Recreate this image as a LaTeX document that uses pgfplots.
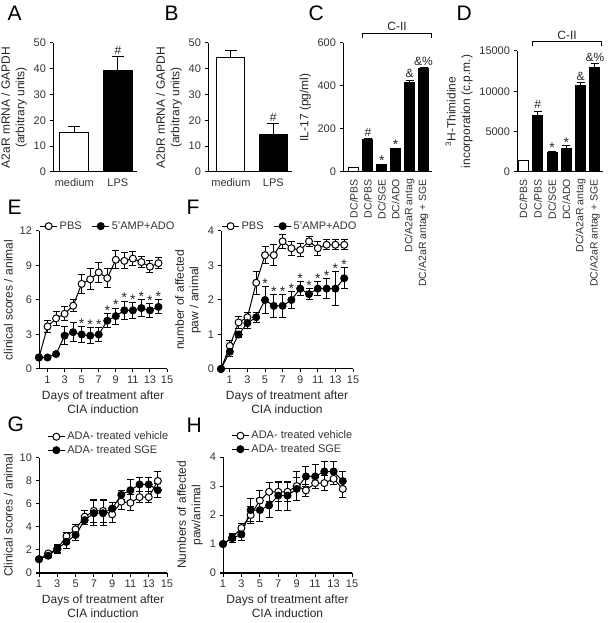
\documentclass[border=0pt]{standalone}
\usepackage{fontspec}
\setmainfont{Liberation Sans}
\usepackage{pgfplots}
\pgfplotsset{compat=1.18}

\pgfplotsset{
  panel/.style={
    scale only axis, clip=false,
    axis lines=left,
    axis line style={-, line width=1pt, black},
    tick align=outside, tick pos=left,
    major tick length=3.5pt,
    tick style={line width=1pt, black},
    tick label style={font=\fontsize{11}{12}\selectfont, text=black!80},
    label style={font=\fontsize{12}{14.5}\selectfont, text=black!85, align=center},
    /pgf/number format/assume math mode=true,
    /pgf/number format/set thousands separator={},
    scaled y ticks=false,
    ymin=0,
  },
  barpanel/.style={panel, xtick style={draw=none}},
  rotlabels/.style={xticklabel style={rotate=90, anchor=east, font=\fontsize{10.5}{12}\selectfont}},
  linepanel/.style={panel,
    legend style={draw=none, fill=none, font=\fontsize{11}{12.5}\selectfont, text=black!80},
    legend cell align=left},
  errb/.style={error bars/.cd, y dir=both, y explicit,
    error bar style={line width=1pt},
    error mark options={rotate=90, mark size=3.5pt, line width=1pt}},
  berr/.style={error bars/.cd, y dir=plus, y explicit,
    error bar style={line width=1pt},
    error mark options={rotate=90, mark size=#1, line width=1pt}},
  openc/.style={black, line width=1pt, mark=*, mark size=3.5pt,
    mark options={fill=white, line width=1pt, solid}},
  fullc/.style={black, line width=1pt, mark=*, mark size=3.5pt,
    mark options={fill=black, solid}},
  note/.style={draw=none, mark=none, nodes near coords, point meta=explicit symbolic,
    every node near coord/.append style={font=\fontsize{12}{13}\selectfont,
      text=black!85, anchor=south, inner sep=1.5pt}},
  starnote/.style={draw=none, mark=none, nodes near coords={*},
    every node near coord/.append style={font=\fontsize{14}{14}\selectfont,
      text=black!85, anchor=base, inner sep=0pt, yshift=-1.8pt}},
}

\newcommand{\panel}[1]{\fontsize{21}{21}\selectfont #1}

\begin{document}
\begin{tikzpicture}
\path[use as bounding box] (0pt,0pt) rectangle (611pt,623pt);

% panel letters
\node[anchor=base west] at (4pt,602pt) {\panel{A}};
\node[anchor=base west] at (161pt,602pt) {\panel{B}};
\node[anchor=base west] at (305pt,602pt) {\panel{C}};
\node[anchor=base west] at (453pt,602pt) {\panel{D}};
\node[anchor=base west] at (4pt,408pt) {\panel{E}};
\node[anchor=base west] at (183pt,408pt) {\panel{F}};
\node[anchor=base west] at (4pt,191pt) {\panel{G}};
\node[anchor=base west] at (183pt,190pt) {\panel{H}};

% ---------- A
\begin{axis}[barpanel, at={(53pt,451pt)}, anchor=south west,
  width=84pt, height=129pt, xmin=-0.49, xmax=1.44, ymax=50,
  ytick={0,10,...,50}, xtick={0,1}, xticklabels={medium,LPS},
  ylabel={A2aR mRNA / GAPDH\\(arbitrary units)}]
\addplot[ybar, bar width=29pt, bar shift=0pt, fill=white, draw=black, line width=1pt, berr=6pt]
  coordinates {(0,15.5) +- (0,2.0)};
\addplot[ybar, bar width=29pt, bar shift=0pt, fill=black, draw=black, line width=1pt, berr=6pt]
  coordinates {(1,39.3) +- (0,5.3)};
\addplot[note] coordinates {(1,44.8)[\#]};
\end{axis}

% ---------- B
\begin{axis}[barpanel, at={(208pt,451pt)}, anchor=south west,
  width=84pt, height=129pt, xmin=-0.54, xmax=1.44, ymax=50,
  ytick={0,10,...,50}, xtick={0,1}, xticklabels={medium,LPS},
  ylabel={A2bR mRNA / GAPDH\\(arbitrary units)}]
\addplot[ybar, bar width=28pt, bar shift=0pt, fill=white, draw=black, line width=1pt, berr=6pt]
  coordinates {(0,44.2) +- (0,2.8)};
\addplot[ybar, bar width=28pt, bar shift=0pt, fill=black, draw=black, line width=1pt, berr=6pt]
  coordinates {(1,14.6) +- (0,4.2)};
\addplot[note] coordinates {(1,19.0)[\#]};
\end{axis}

% ---------- C
\begin{axis}[barpanel, rotlabels, at={(343pt,451pt)}, anchor=south west,
  width=89pt, height=129pt, xmin=-0.79, xmax=5.61, ymax=600,
  ytick={0,200,400,600}, xtick={0,...,5},
  xticklabels={DC/PBS,DC/PBS,DC/SGE,DC/ADO,DC/A2aR antag,DC/A2aR antag + SGE},
  ylabel={IL-17 (pg/ml)}]
\addplot[ybar, bar width=10pt, bar shift=0pt, fill=white, draw=black, line width=1pt, berr=4pt]
  coordinates {(0,20) +- (0,2)};
\addplot[ybar, bar width=10pt, bar shift=0pt, fill=black, draw=black, line width=1pt, berr=4pt]
  coordinates {(1,150) +- (0,6) (2,35) +- (0,2) (3,108) +- (0,3) (4,415) +- (0,12) (5,480) +- (0,5)};
\addplot[note] coordinates {(1,158)[\#] (4,429)[\&] (5,487)[\&\%]};
\addplot[starnote] coordinates {(2,39) (3,113)};
\draw[line width=0.9pt] (axis cs:0.64,623) |- (axis cs:5.54,646) -- (axis cs:5.54,623);
\node[anchor=south, font=\fontsize{12}{13}\selectfont, text=black!85, inner sep=2pt] at (axis cs:3.1,646) {C-II};
\end{axis}

% ---------- D
\begin{axis}[barpanel, rotlabels, at={(517pt,451pt)}, anchor=south west,
  width=86pt, height=121pt, xmin=-0.45, xmax=5.56, ymax=15000,
  ytick={0,5000,10000,15000}, xtick={0,...,5},
  xticklabels={DC/PBS,DC/PBS,DC/SGE,DC/ADO,DC/A2aR antag,DC/A2aR antag + SGE},
  ylabel={\textsuperscript{3}H-Thimidine\\incorporation (c.p.m.)}]
\addplot[ybar, bar width=10pt, bar shift=0pt, fill=white, draw=black, line width=1pt, berr=4pt]
  coordinates {(0,1400) +- (0,80)};
\addplot[ybar, bar width=10pt, bar shift=0pt, fill=black, draw=black, line width=1pt, berr=4pt]
  coordinates {(1,7000) +- (0,550) (2,2400) +- (0,200) (3,2950) +- (0,280) (4,10700) +- (0,350) (5,13000) +- (0,400)};
\addplot[note] coordinates {(1,7600)[\#] (4,11100)[\&] (5,13450)[\&\%]};
\addplot[starnote] coordinates {(2,2650) (3,3280)};
\draw[line width=0.9pt] (axis cs:0.66,15600) |- (axis cs:5.42,16150) -- (axis cs:5.42,15600);
\node[anchor=south, font=\fontsize{12}{13}\selectfont, text=black!85, inner sep=2pt] at (axis cs:3.05,16150) {C-II};
\end{axis}

% ---------- E
\begin{axis}[linepanel, at={(39pt,254pt)}, anchor=south west,
  width=128pt, height=138pt, xmin=0, xmax=15, ymax=12,
  xtick={1,3,...,15}, ytick={0,3,...,12},
  xlabel={Days of treatment after\\CIA induction},
  ylabel={clinical scores / animal},
  legend columns=2,
  legend style={at={(-0.02,1.035)}, anchor=west,
    /tikz/every even column/.append style={column sep=8pt}}]
\addplot[openc, errb] coordinates {
  (0,1.0) (1,3.7) +- (0,0.5) (2,4.4) +- (0,0.6) (3,4.8) +- (0,0.6) (4,5.5) +- (0,0.5)
  (5,7.4) +- (0,0.8) (6,7.8) +- (0,0.9) (7,8.4) +- (0,0.9) (8,7.9) +- (0,0.8)
  (9,9.5) +- (0,0.8) (10,9.4) +- (0,0.7) (11,9.6) +- (0,0.6) (12,9.3) +- (0,0.5)
  (13,8.9) +- (0,0.5) (14,9.2) +- (0,0.5)};
\addlegendentry{PBS}
\addplot[fullc, errb] coordinates {
  (0,1.0) (1,1.0) (2,1.3) (3,2.9) +- (0,0.8) (4,3.2) +- (0,0.8) (5,3.0) +- (0,0.7)
  (6,2.9) +- (0,0.7) (7,3.0) +- (0,0.6) (8,4.2) +- (0,0.6) (9,4.6) +- (0,0.7)
  (10,5.1) +- (0,0.8) (11,5.1) +- (0,0.7) (12,5.3) +- (0,0.7) (13,5.1) +- (0,0.6)
  (14,5.4) +- (0,0.6)};
\addlegendentry{5'AMP+ADO}
\addplot[starnote] coordinates {(5,3.7) (6,3.6) (7,3.6) (8,4.8) (9,5.3)
  (10,5.9) (11,5.8) (12,6.0) (13,5.7) (14,6.0)};
\end{axis}

% ---------- F
\begin{axis}[linepanel, at={(221pt,254pt)}, anchor=south west,
  width=132pt, height=138pt, xmin=0, xmax=15, ymax=4,
  xtick={1,3,...,15}, ytick={0,1,...,4},
  xlabel={Days of treatment after\\CIA induction},
  ylabel={number of affected\\paw / animal},
  legend columns=2,
  legend style={at={(-0.02,1.035)}, anchor=west,
    /tikz/every even column/.append style={column sep=8pt}}]
\addplot[openc, errb] coordinates {
  (0,0) (1,0.67) +- (0,0.15) (2,1.35) +- (0,0.18) (3,1.5) +- (0,0.15) (4,2.5) +- (0,0.33)
  (5,3.3) +- (0,0.25) (6,3.3) +- (0,0.3) (7,3.7) +- (0,0.2) (8,3.5) +- (0,0.2)
  (9,3.45) +- (0,0.2) (10,3.7) +- (0,0.15) (11,3.5) +- (0,0.2) (12,3.6) +- (0,0.15)
  (13,3.6) +- (0,0.15) (14,3.6) +- (0,0.15)};
\addlegendentry{PBS}
\addplot[fullc, errb] coordinates {
  (0,0) (1,0.5) +- (0,0.15) (2,1.0) +- (0,0.1) (3,1.33) +- (0,0.15) (4,1.5) +- (0,0.15)
  (5,2.0) +- (0,0.38) (6,1.83) +- (0,0.33) (7,1.83) +- (0,0.33) (8,2.0) +- (0,0.25)
  (9,2.33) +- (0,0.2) (10,2.17) +- (0,0.15) (11,2.33) +- (0,0.2) (12,2.33) +- (0,0.3)
  (13,2.33) +- (0,0.5) (14,2.63) +- (0,0.3)};
\addlegendentry{5'AMP+ADO}
\addplot[starnote] coordinates {(5,2.38) (6,2.16) (7,2.16) (8,2.25) (9,2.53)
  (10,2.32) (11,2.53) (12,2.63) (13,2.83) (14,2.93)};
\end{axis}

% ---------- G
\begin{axis}[linepanel, at={(39pt,50pt)}, anchor=south west,
  width=128pt, height=115pt, xmin=1, xmax=15, ymax=10,
  xtick={1,3,...,15}, ytick={0,2,...,10},
  xlabel={Days of treatment after\\CIA induction},
  ylabel={Clinical scores / animal},
  legend style={at={(0.04,0.99)}, anchor=south west}]
\addplot[openc, errb] coordinates {
  (1,1.2) (2,1.7) +- (0,0.15) (3,2.1) +- (0,0.3) (4,3.2) +- (0,0.3) (5,3.8) +- (0,0.4)
  (6,4.9) +- (0,0.5) (7,5.4) +- (0,1.0) (8,5.4) +- (0,1.0) (9,5.1) +- (0,0.7)
  (10,6.2) +- (0,0.7) (11,6.1) +- (0,0.7) (12,6.6) +- (0,0.5) (13,6.6) +- (0,0.5)
  (14,8.0) +- (0,0.8)};
\addlegendentry{ADA- treated vehicle}
\addplot[fullc, errb] coordinates {
  (1,1.2) (2,1.5) +- (0,0.15) (3,2.1) +- (0,0.4) (4,2.7) +- (0,0.6) (5,3.3) +- (0,0.5)
  (6,4.6) +- (0,0.4) (7,5.2) +- (0,1.1) (8,5.2) +- (0,1.1) (9,5.6) +- (0,0.5)
  (10,6.8) +- (0,0.4) (11,7.2) +- (0,0.9) (12,7.7) +- (0,0.6) (13,7.7) +- (0,0.6)
  (14,7.2) +- (0,0.6)};
\addlegendentry{ADA- treated SGE}
\end{axis}

% ---------- H
\begin{axis}[linepanel, at={(223pt,50pt)}, anchor=south west,
  width=129pt, height=116pt, xmin=1, xmax=15, ymax=4,
  xtick={1,3,...,15}, ytick={0,1,...,4},
  xlabel={Days of treatment after\\CIA induction},
  ylabel={Numbers of affected\\paw/animal},
  legend style={at={(0.04,0.99)}, anchor=south west}]
\addplot[openc, errb] coordinates {
  (1,1.0) (2,1.22) +- (0,0.1) (3,1.55) +- (0,0.15) (4,2.0) +- (0,0.3) (5,2.5) +- (0,0.33)
  (6,2.8) +- (0,0.33) (7,2.8) +- (0,0.33) (8,2.8) +- (0,0.33) (9,3.0) +- (0,0.5)
  (10,2.85) +- (0,0.2) (11,3.1) +- (0,0.2) (12,3.1) +- (0,0.25) (13,3.25) +- (0,0.2)
  (14,2.9) +- (0,0.3)};
\addlegendentry{ADA-  treated vehicle}
\addplot[fullc, errb] coordinates {
  (1,1.0) (2,1.2) +- (0,0.15) (3,1.33) +- (0,0.2) (4,2.17) +- (0,0.4) (5,2.17) +- (0,0.4)
  (6,2.33) +- (0,0.4) (7,2.67) +- (0,0.5) (8,2.67) +- (0,0.5) (9,2.9) +- (0,0.4)
  (10,3.33) +- (0,0.33) (11,3.33) +- (0,0.4) (12,3.5) +- (0,0.33) (13,3.5) +- (0,0.33)
  (14,3.17) +- (0,0.33)};
\addlegendentry{ADA- treated SGE}
\end{axis}
\end{tikzpicture}
\end{document}
